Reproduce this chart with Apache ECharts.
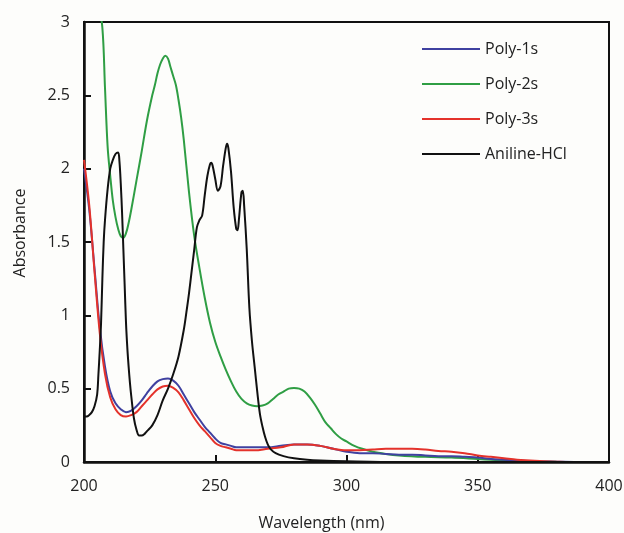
<!DOCTYPE html>
<html>
<head>
<meta charset="utf-8">
<style>
  html, body { margin: 0; padding: 0; background: #fdfdfb; }
  #chart { width: 624px; height: 533px; }
</style>
<script src="https://cdn.jsdelivr.net/npm/echarts@6/dist/echarts.min.js"></script>
</head>
<body>
<div id="chart"></div>
<script>
// UV-Vis absorption spectra: [wavelength (nm), absorbance]
const seriesNames = ['Poly-1s', 'Poly-2s', 'Poly-3s', 'Aniline-HCl'];

const poly1s = [
  [200, 2.0], [202, 1.72], [204, 1.32], [206, 0.92], [208, 0.65], [210, 0.48], [212, 0.40],
  [214, 0.36], [216, 0.34], [218, 0.35], [220, 0.38], [222, 0.42], [224, 0.47], [226, 0.515],
  [228, 0.55], [230, 0.565], [232, 0.57], [234, 0.555], [236, 0.52], [238, 0.46], [240, 0.40],
  [242, 0.34], [244, 0.29], [246, 0.24], [248, 0.20], [250, 0.16], [252, 0.13], [254, 0.12],
  [256, 0.11], [258, 0.10], [260, 0.10], [265, 0.10], [270, 0.10], [275, 0.11], [280, 0.12],
  [285, 0.12], [290, 0.11], [295, 0.09], [300, 0.07], [305, 0.06], [310, 0.06], [315, 0.055],
  [320, 0.05], [325, 0.05], [330, 0.045], [335, 0.04], [340, 0.04], [345, 0.035], [350, 0.03],
  [355, 0.02], [360, 0.015], [365, 0.01], [370, 0.005], [380, 0.002], [390, 0], [400, 0]
];

const poly2s = [
  [200, 3.9], [203, 3.45], [205, 3.2], [207, 2.96], [208, 2.55], [209, 2.15], [210, 1.95],
  [211, 1.78], [212, 1.67], [213, 1.59], [214, 1.54], [215, 1.53], [216, 1.56], [217, 1.63],
  [218, 1.72], [220, 1.92], [222, 2.12], [224, 2.33], [226, 2.50], [227, 2.57], [228, 2.65],
  [229, 2.71], [230, 2.75], [231, 2.77], [232, 2.75], [233, 2.69], [234, 2.63], [235, 2.57],
  [236, 2.47], [237, 2.35], [238, 2.20], [240, 1.84], [242, 1.54], [244, 1.32], [246, 1.12],
  [248, 0.95], [250, 0.82], [252, 0.72], [254, 0.63], [256, 0.55], [258, 0.48], [260, 0.43],
  [262, 0.40], [264, 0.385], [266, 0.38], [268, 0.385], [270, 0.40], [272, 0.43], [274, 0.46],
  [276, 0.48], [278, 0.50], [280, 0.505], [282, 0.50], [284, 0.48], [286, 0.44], [288, 0.39],
  [290, 0.33], [292, 0.27], [294, 0.23], [296, 0.19], [298, 0.16], [300, 0.14], [303, 0.11],
  [306, 0.09], [310, 0.07], [315, 0.055], [320, 0.045], [330, 0.035], [340, 0.03], [350, 0.02],
  [355, 0.015], [360, 0.01], [370, 0.004], [380, 0.001], [390, 0], [400, 0]
];

const poly3s = [
  [200, 2.06], [202, 1.75], [204, 1.30], [206, 0.88], [208, 0.60], [210, 0.44], [212, 0.36],
  [214, 0.32], [216, 0.31], [218, 0.32], [220, 0.34], [222, 0.38], [224, 0.42], [226, 0.46],
  [228, 0.495], [230, 0.515], [232, 0.52], [234, 0.505], [236, 0.475], [238, 0.42], [240, 0.36],
  [242, 0.30], [244, 0.25], [246, 0.21], [248, 0.17], [250, 0.13], [252, 0.11], [254, 0.10],
  [256, 0.09], [258, 0.08], [260, 0.08], [265, 0.08], [270, 0.09], [275, 0.10], [280, 0.12],
  [285, 0.12], [290, 0.11], [295, 0.09], [300, 0.08], [305, 0.08], [310, 0.085], [315, 0.09],
  [320, 0.09], [325, 0.09], [330, 0.085], [335, 0.075], [340, 0.07], [345, 0.06], [350, 0.045],
  [355, 0.035], [360, 0.025], [365, 0.015], [370, 0.01], [375, 0.005], [380, 0.002], [385, 0],
  [400, 0]
];

const anilineHCl = [
  [200, 0.31], [201, 0.31], [202, 0.32], [203, 0.34], [204, 0.38], [205, 0.46], [205.5, 0.6],
  [206, 0.76], [206.5, 0.95], [207, 1.25], [207.5, 1.5], [208, 1.65], [209, 1.86], [210, 2.0],
  [211, 2.06], [212, 2.1], [213, 2.11], [213.5, 2.05], [214, 1.9], [214.5, 1.7], [215, 1.45],
  [215.5, 1.2], [216, 0.95], [216.5, 0.78], [217, 0.65], [217.5, 0.54], [218, 0.45], [219, 0.30],
  [220, 0.22], [221, 0.18], [222, 0.18], [223, 0.19], [224, 0.21], [226, 0.25], [228, 0.32],
  [230, 0.42], [232, 0.50], [234, 0.60], [236, 0.72], [238, 0.90], [239, 1.02], [240, 1.15],
  [241, 1.30], [242, 1.45], [243, 1.60], [244, 1.65], [245, 1.68], [246, 1.82], [247, 1.95],
  [248, 2.03], [248.5, 2.04], [249, 2.02], [250, 1.93], [251, 1.85], [252, 1.88], [253, 2.02],
  [254, 2.14], [254.5, 2.17], [255, 2.14], [256, 1.98], [257, 1.74], [258, 1.59], [258.5, 1.58],
  [259, 1.65], [260, 1.84], [260.5, 1.85], [261, 1.75], [262, 1.45], [263, 1.05], [264, 0.82],
  [265, 0.65], [266, 0.48], [267, 0.33], [268, 0.24], [269, 0.17], [270, 0.12], [271, 0.09],
  [273, 0.06], [276, 0.04], [280, 0.025], [285, 0.015], [290, 0.01], [300, 0.005], [320, 0],
  [400, 0]
];

const xTicks = { min: 200, max: 400, interval: 50 };
const yTicks = { min: 0, max: 3, interval: 0.5 };

const colors = ['#3f41a0', '#2f9e44', '#e4322b', '#111111'];
const FONT = 'Open Sans';

const chart = echarts.init(document.getElementById('chart'), null, { renderer: 'canvas' });

function lineSeries(name, data, color, z) {
  return {
    name: name,
    type: 'line',
    data: data,
    showSymbol: false,
    smooth: 0.35,
    clip: true,
    z: z,
    lineStyle: { color: color, width: 2 },
    itemStyle: { color: color }
  };
}

chart.setOption({
  backgroundColor: '#fdfdfb',
  animation: false,
  textStyle: { fontFamily: FONT },
  grid: {
    left: 84, right: 15, top: 22, bottom: 71,
    outerBoundsMode: 'none',
    containLabel: false,
    show: true, borderColor: '#111', borderWidth: 2, backgroundColor: 'transparent'
  },
  legend: {
    orient: 'vertical',
    left: 422, top: 39,
    padding: 0,
    icon: 'rect',
    itemWidth: 58, itemHeight: 2,
    itemGap: 15,
    textStyle: { fontFamily: FONT, fontSize: 16, color: '#222', lineHeight: 20 },
    data: seriesNames
  },
  xAxis: {
    type: 'value',
    min: xTicks.min, max: xTicks.max, interval: xTicks.interval,
    name: 'Wavelength (nm)',
    nameLocation: 'middle',
    nameGap: 53,
    nameTextStyle: { fontFamily: FONT, fontSize: 16, color: '#222', padding: [0, 50, 0, 0] },
    axisLine: { show: true, lineStyle: { color: '#111', width: 2.5 } },
    axisTick: { show: true, inside: true, length: 7, lineStyle: { color: '#111', width: 2 } },
    axisLabel: { fontFamily: FONT, fontSize: 16, color: '#222', margin: 16 },
    splitLine: { show: false }
  },
  yAxis: {
    type: 'value',
    min: yTicks.min, max: yTicks.max, interval: yTicks.interval,
    name: 'Absorbance',
    nameLocation: 'middle',
    nameGap: 56,
    nameRotate: 90,
    nameTextStyle: { fontFamily: FONT, fontSize: 16, color: '#222', padding: [0, 0, 0, 18] },
    axisLine: { show: true, lineStyle: { color: '#111', width: 2.5 } },
    axisTick: { show: true, inside: true, length: 7, lineStyle: { color: '#111', width: 2 } },
    axisLabel: { fontFamily: FONT, fontSize: 16, color: '#222', margin: 14 },
    splitLine: { show: false }
  },
  series: [
    lineSeries(seriesNames[0], poly1s, colors[0], 3),
    lineSeries(seriesNames[1], poly2s, colors[1], 2),
    lineSeries(seriesNames[2], poly3s, colors[2], 4),
    lineSeries(seriesNames[3], anilineHCl, colors[3], 5)
  ]
});
</script>
</body>
</html>
